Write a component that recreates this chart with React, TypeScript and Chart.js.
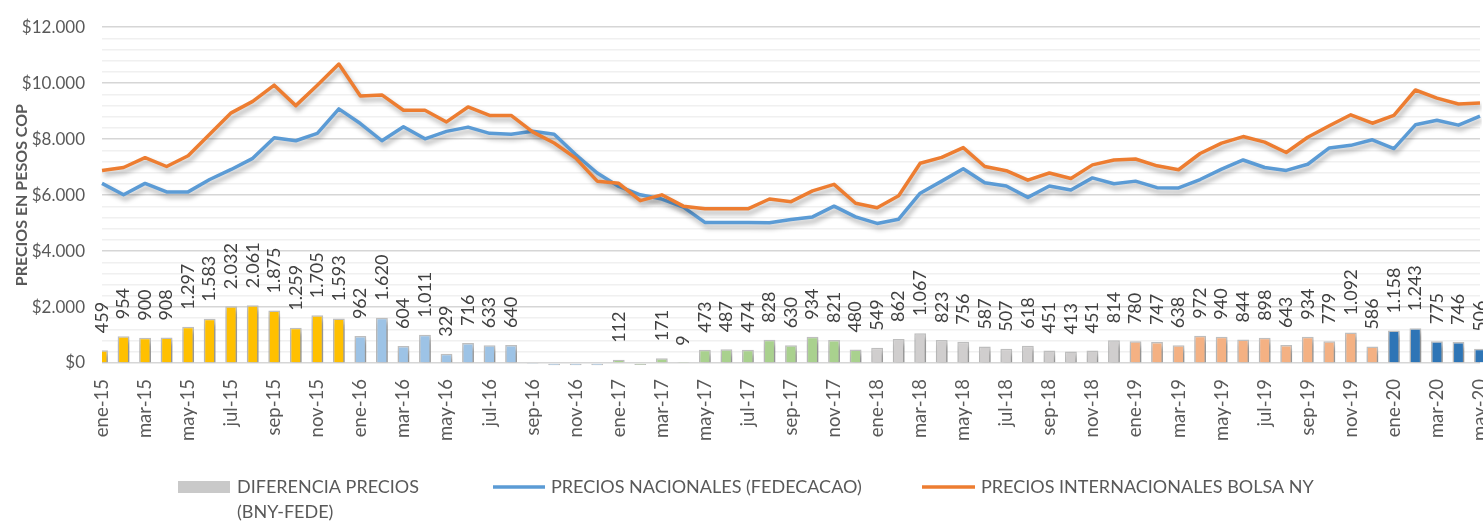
import React, { useEffect, useRef } from 'react';
import { Chart, registerables } from 'chart.js';

Chart.register(...registerables);

const categories = [
  'ene-15', 'feb-15', 'mar-15', 'abr-15', 'may-15', 'jun-15', 'jul-15', 'ago-15', 'sep-15', 'oct-15', 'nov-15', 'dic-15',
  'ene-16', 'feb-16', 'mar-16', 'abr-16', 'may-16', 'jun-16', 'jul-16', 'ago-16', 'sep-16', 'oct-16', 'nov-16', 'dic-16',
  'ene-17', 'feb-17', 'mar-17', 'abr-17', 'may-17', 'jun-17', 'jul-17', 'ago-17', 'sep-17', 'oct-17', 'nov-17', 'dic-17',
  'ene-18', 'feb-18', 'mar-18', 'abr-18', 'may-18', 'jun-18', 'jul-18', 'ago-18', 'sep-18', 'oct-18', 'nov-18', 'dic-18',
  'ene-19', 'feb-19', 'mar-19', 'abr-19', 'may-19', 'jun-19', 'jul-19', 'ago-19', 'sep-19', 'oct-19', 'nov-19', 'dic-19',
  'ene-20', 'feb-20', 'mar-20', 'abr-20', 'may-20',
];

const diferenciaPrecios = [
  459, 954, 900, 908, 1297, 1583, 2032, 2061, 1875, 1259, 1705, 1593,
  962, 1620, 604, 1011, 329, 716, 633, 640, -10, -80, -80, -80,
  112, -70, 171, 9, 473, 487, 474, 828, 630, 934, 821, 480,
  549, 862, 1067, 823, 756, 587, 507, 618, 451, 413, 451, 814,
  780, 747, 638, 972, 940, 844, 898, 643, 934, 779, 1092, 586,
  1158, 1243, 775, 746, 506,
];

const preciosNacionales = [
  6418, 6010, 6418, 6115, 6115, 6557, 6917, 7313, 8046, 7942, 8208, 9080,
  8557, 7942, 8441, 8011, 8278, 8430, 8208, 8173, 8278, 8173, 7450, 6790,
  6310, 6010, 5860, 5570, 5023, 5023, 5023, 5012, 5127, 5220, 5605, 5220,
  4988, 5138, 6069, 6499, 6941, 6441, 6325, 5919, 6325, 6185, 6615, 6406,
  6499, 6266, 6255, 6557, 6929, 7255, 6987, 6882, 7103, 7685, 7778, 7976,
  7662, 8511, 8674, 8500, 8824,
];

const preciosInternacionales = [
  6882, 6987, 7336, 7022, 7406, 8173, 8940, 9348, 9929, 9197, 9929, 10685,
  9545, 9580, 9034, 9034, 8615, 9150, 8849, 8849, 8260, 7860, 7320, 6499,
  6420, 5801, 6010, 5605, 5511, 5511, 5511, 5860, 5766, 6150, 6383, 5709,
  5546, 5976, 7140, 7349, 7698, 7022, 6871, 6534, 6790, 6592, 7080, 7255,
  7290, 7046, 6906, 7487, 7860, 8092, 7894, 7522, 8069, 8476, 8871, 8568,
  8849, 9756, 9465, 9256, 9290,
];

const yearColors: Record<string, string> = {
  '15': '#FFC000',
  '16': '#9DC3E6',
  '17': '#A9D18E',
  '18': '#D0CECE',
  '19': '#F4B183',
  '20': '#2E75B6',
};

const legendLabels = [
  ['DIFERENCIA PRECIOS', '(BNY-FEDE)'],
  ['PRECIOS NACIONALES (FEDECACAO)'],
  ['PRECIOS INTERNACIONALES BOLSA NY'],
];

const yAxisTitle = 'PRECIOS EN PESOS COP';

const FONT = 'Lato, "Open Sans", sans-serif';
const TEXT_COLOR = '#595959';

const fmt = (v: number) => {
  const s = Math.round(Math.abs(v)).toString().replace(/\B(?=(\d{3})+(?!\d))/g, '.');
  return (v < 0 ? '-' : '') + s;
};

const shadowPlugin = {
  id: 'softShadow',
  beforeDatasetDraw(chart: any) {
    const ctx = chart.ctx;
    ctx.save();
    ctx.shadowColor = 'rgba(0,0,0,0.32)';
    ctx.shadowBlur = 5;
    ctx.shadowOffsetX = 2;
    ctx.shadowOffsetY = 4;
  },
  afterDatasetDraw(chart: any) {
    chart.ctx.restore();
  },
};

const dataLabelPlugin = {
  id: 'barLabels',
  afterDatasetsDraw(chart: any) {
    const meta = chart.getDatasetMeta(0);
    const ctx = chart.ctx;
    ctx.save();
    ctx.font = `18px ${FONT}`;
    ctx.fillStyle = '#404040';
    ctx.textAlign = 'left';
    ctx.textBaseline = 'middle';
    meta.data.forEach((el: any, i: number) => {
      const v = diferenciaPrecios[i];
      if (v <= 0) return;
      ctx.save();
      ctx.translate(el.x, el.y - 17);
      ctx.rotate(-Math.PI / 2);
      ctx.fillText(fmt(v), 0, 0);
      ctx.restore();
    });
    ctx.restore();
  },
};

const legendPlugin = {
  id: 'customLegend',
  afterDraw(chart: any) {
    const ctx = chart.ctx;
    ctx.save();
    ctx.font = `18px ${FONT}`;
    ctx.textBaseline = 'middle';
    ctx.textAlign = 'left';
    ctx.fillStyle = '#C9C9C9';
    ctx.fillRect(178, 481, 52, 12);
    ctx.fillStyle = TEXT_COLOR;
    ctx.fillText(legendLabels[0][0], 237, 487);
    ctx.fillText(legendLabels[0][1], 237, 512);
    ctx.strokeStyle = '#5B9BD5';
    ctx.lineWidth = 3.5;
    ctx.beginPath();
    ctx.moveTo(493, 487);
    ctx.lineTo(545, 487);
    ctx.stroke();
    ctx.fillText(legendLabels[1][0], 551, 487);
    ctx.strokeStyle = '#ED7D31';
    ctx.beginPath();
    ctx.moveTo(922, 487);
    ctx.lineTo(975, 487);
    ctx.stroke();
    ctx.fillText(legendLabels[2][0], 981, 487);
    ctx.restore();
  },
};

export default function App() {
  const canvasRef = useRef<HTMLCanvasElement | null>(null);

  useEffect(() => {
    if (!canvasRef.current) return;
    const barColors = categories.map((c) => yearColors[c.slice(-2)]);
    const chart = new Chart(canvasRef.current, {
      type: 'bar',
      data: {
        labels: categories,
        datasets: [
          {
            type: 'bar',
            label: 'DIFERENCIA PRECIOS (BNY-FEDE)',
            data: diferenciaPrecios,
            backgroundColor: barColors,
            borderColor: '#BFBFBF',
            borderWidth: 1.5,
            barPercentage: 0.55,
            categoryPercentage: 1,
            order: 2,
            clip: { left: 0, top: 0, right: 5, bottom: 10 } as any,
          },
          {
            type: 'line',
            label: 'PRECIOS NACIONALES (FEDECACAO)',
            data: preciosNacionales,
            borderColor: '#5B9BD5',
            backgroundColor: '#5B9BD5',
            borderWidth: 3.5,
            pointRadius: 0,
            tension: 0,
            borderJoinStyle: 'round',
            order: 1,
          },
          {
            type: 'line',
            label: 'PRECIOS INTERNACIONALES BOLSA NY',
            data: preciosInternacionales,
            borderColor: '#ED7D31',
            backgroundColor: '#ED7D31',
            borderWidth: 3.5,
            pointRadius: 0,
            tension: 0,
            borderJoinStyle: 'round',
            order: 0,
          },
        ],
      },
      options: {
        animation: false,
        responsive: true,
        maintainAspectRatio: false,
        devicePixelRatio: 1,
        layout: { padding: { top: 19, right: 3, left: 0, bottom: 0 } },
        plugins: {
          legend: { display: false },
          tooltip: { enabled: false },
        },
        scales: {
          x: {
            offset: false,
            grid: { display: false, offset: false },
            border: { display: false },
            ticks: {
              autoSkip: false,
              minRotation: 90,
              maxRotation: 90,
              padding: 8,
              color: TEXT_COLOR,
              font: { family: FONT, size: 18.5 },
              callback: (_v: any, i: number) => (i % 2 === 0 ? categories[i] : null),
            },
            afterFit: (scale: any) => {
              scale.height = 158;
              scale.paddingLeft = 0;
              scale.paddingRight = 0;
            },
          },
          y: {
            min: 0,
            max: 12000,
            grid: {
              drawTicks: false,
              lineWidth: 1.5,
              color: (c: any) => (c.tick && c.tick.value % 2000 === 0 ? '#D6D6D6' : '#F0F0F0'),
            },
            border: { display: false },
            ticks: {
              stepSize: 400,
              maxTicksLimit: 40,
              autoSkip: false,
              padding: 17,
              color: TEXT_COLOR,
              font: { family: FONT, size: 17 },
              callback: (v: any) => (Number(v) % 2000 === 0 ? '$' + fmt(Number(v)) : ''),
            },
            title: {
              display: true,
              text: yAxisTitle,
              color: TEXT_COLOR,
              font: { family: FONT, size: 16, weight: 'bold' },
              padding: { top: 12, bottom: 0 },
            },
            afterFit: (scale: any) => {
              scale.width = 102;
            },
          },
        },
      },
      plugins: [shadowPlugin, dataLabelPlugin, legendPlugin],
    } as any);
    return () => chart.destroy();
  }, []);

  return (
    <div style={{ position: 'fixed', left: 0, top: 0, width: 1483, height: 521, background: '#fff' }}>
      <canvas ref={canvasRef} />
    </div>
  );
}
